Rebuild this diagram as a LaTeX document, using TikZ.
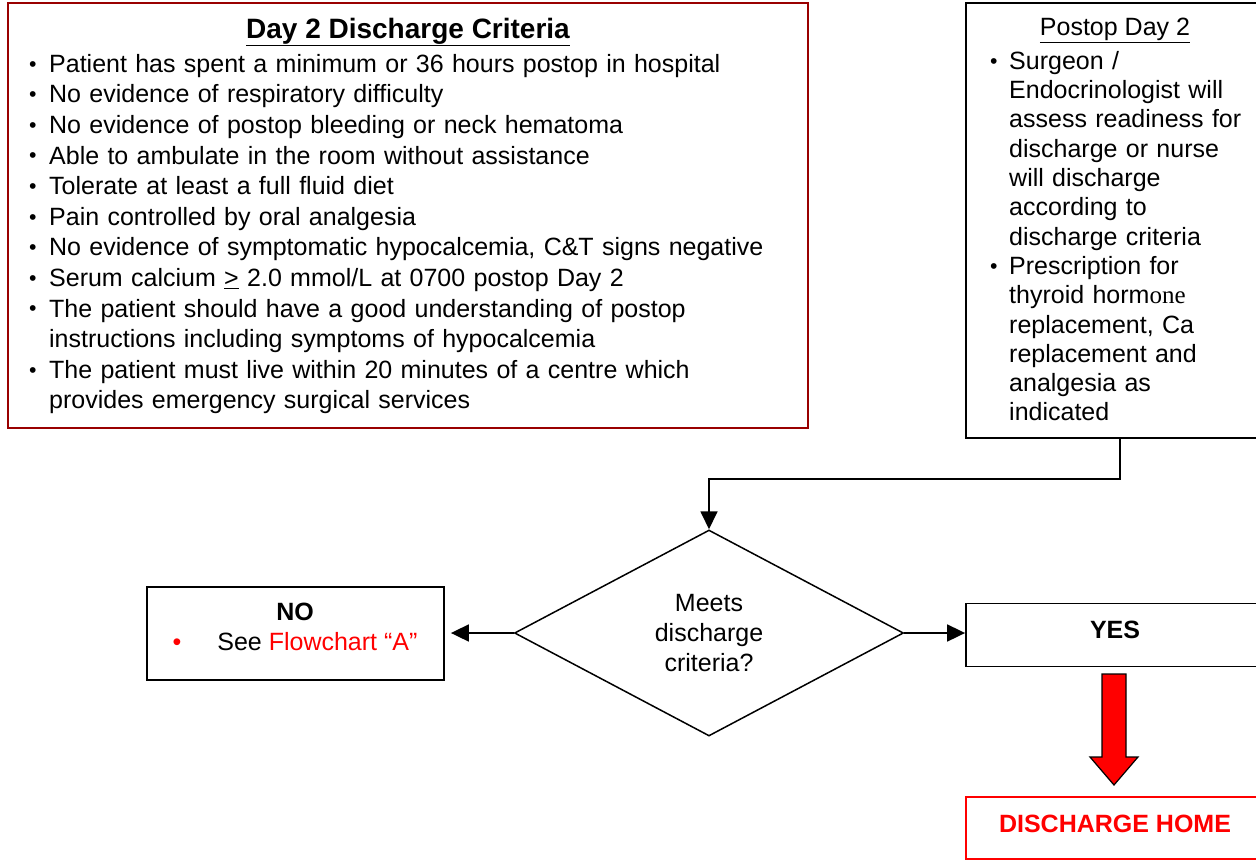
\documentclass[tikz,border=0pt]{standalone}
\usepackage{fontspec}
\setmainfont{Liberation Sans}
\newfontfamily\timesfont{Liberation Serif}
\usetikzlibrary{shapes.geometric,arrows.meta}

\definecolor{critred}{HTML}{990000}
\newcommand{\critem}[2][23pt]{\hangindent=#1\hangafter=1\noindent\makebox[#1][l]{\hspace{3pt}\raisebox{.05em}{\scalebox{.85}{\textbullet}}}#2\par}

\begin{document}
\begin{tikzpicture}[x=1pt,y=-1pt,
  every node/.style={font=\fontsize{25}{30.6}\selectfont, inner sep=0pt},
  critbox/.style={draw=critred, line width=1.5pt, minimum width=800pt, minimum height=425pt},
  flowbox/.style={draw, line width=1.8pt, minimum width=298pt},
  listtext/.style={anchor=north west, align=left},
  decision/.style={draw, diamond, line width=1.5pt, minimum width=389pt, minimum height=206pt, align=center, font=\fontsize{25}{30}\selectfont},
  flow/.style={line width=1.8pt, -{Triangle[length=18pt,width=17pt]}}]
\useasboundingbox (0,0) rectangle (1256,860);

% criteria box
\node[critbox] (crit) at (408,215.5) {};
\node[font=\fontsize{28}{30}\selectfont\bfseries] (crittitle) at (408,32) {\underline{Day 2 Discharge Criteria}};
\node[listtext, text width=780pt] (critlist) at (26,54) {%
\critem{Patient has spent a minimum or 36 hours postop in hospital}
\critem{No evidence of respiratory difficulty}
\critem{No evidence of postop bleeding or neck hematoma}
\critem{Able to ambulate in the room without assistance}
\critem{Tolerate at least a full fluid diet}
\critem{Pain controlled by oral analgesia}
\critem{No evidence of symptomatic hypocalcemia, C\&T signs negative}
\critem{Serum calcium \underline{>} 2.0 mmol/L at 0700 postop Day 2}
\critem{The patient should have a good understanding of postop\newline instructions including symptoms of hypocalcemia}
\critem{The patient must live within 20 minutes of a centre which\newline provides emergency surgical services}};

% postop day 2 box
\node[flowbox, minimum height=435pt] (postop) at (1115,220.5) {};
\node (postoptitle) at (1115,30) {\underline{Postop Day 2}};
\node[listtext, text width=262pt, font=\fontsize{25}{29.3}\selectfont] (postoplist) at (987,51) {%
\critem[22pt]{Surgeon /\newline Endocrinologist will\newline assess readiness for\newline discharge or nurse\newline will discharge\newline according to\newline discharge criteria}
\critem[22pt]{Prescription for\newline thyroid horm{\timesfont one}\newline replacement, Ca\newline replacement and\newline analgesia as\newline indicated}};

% decision
\node[decision] (meets) at (709,633) {Meets\\discharge\\criteria?};

\node[flowbox, minimum width=297pt, minimum height=93pt] (no) at (295.5,633.5) {};
\node[align=center] (notext) at (295,627) {\textbf{NO}\\{\color{red}\textbullet}\hspace{36pt}See \textcolor{red}{Flowchart “A”}};

\node[flowbox, minimum height=63pt, font=\fontsize{25}{30}\selectfont\bfseries, text height=18pt, text depth=12pt] (yes) at (1115,635) {YES};
\node[flowbox, draw=red, line width=1.5pt, text=red, minimum height=62pt, font=\fontsize{25}{30}\selectfont\bfseries, text height=18pt, text depth=10pt] (home) at (1115,828) {DISCHARGE HOME};

\draw[flow] ([xshift=5pt]postop.south) -- ++(0,40) -| (meets.north);
\draw[flow, shorten >=6pt] (meets.west) -- (meets.west -| no.east);
\draw[flow] (meets.east) -- (meets.east -| yes.west);

% big red arrow
\filldraw[fill=red, draw=black, line width=1.2pt] (1102,674) -- (1126,674) -- (1126,757) -- (1138,757) -- (1114,785) -- (1090,757) -- (1102,757) -- cycle;
\end{tikzpicture}
\end{document}
